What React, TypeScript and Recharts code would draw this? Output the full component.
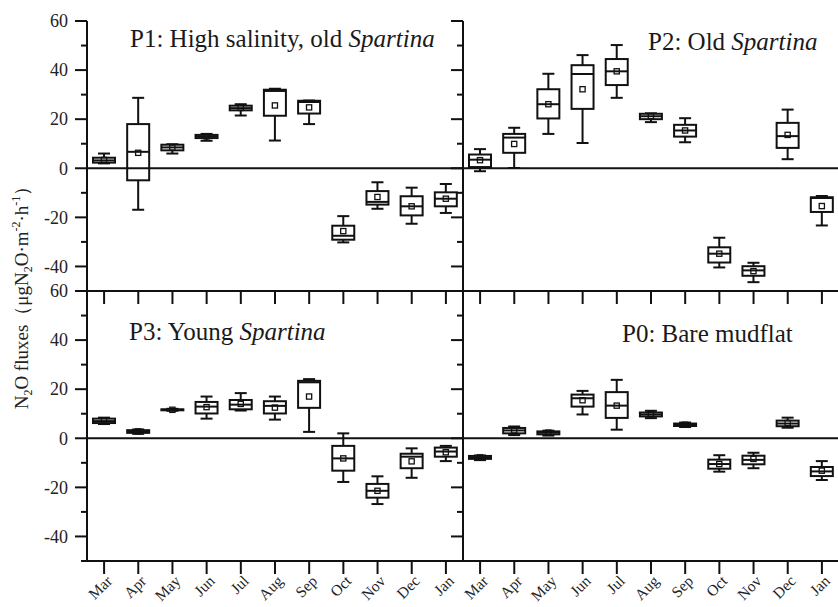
import React from 'react';
import { ComposedChart, Bar, XAxis, YAxis, ReferenceLine } from 'recharts';

const months = ['Mar', 'Apr', 'May', 'Jun', 'Jul', 'Aug', 'Sep', 'Oct', 'Nov', 'Dec', 'Jan'];
const yTicks = [-50, -40, -30, -20, -10, 0, 10, 20, 30, 40, 50, 60];

// P1: High salinity, old Spartina
const p1Min = [2.0, -16.9, 6.0, 11.2, 21.5, 11.3, 18.0, -30.2, -16.5, -22.6, -18.2];
const p1Q1 = [2.3, -4.9, 7.3, 12.3, 23.6, 21.4, 22.3, -29.1, -14.8, -19.2, -15.5];
const p1Med = [3.2, 6.7, 8.5, 13.0, 24.5, 31.5, 27.0, -27.5, -13.7, -15.5, -12.4];
const p1Q3 = [4.3, 18.0, 9.6, 13.6, 25.5, 32.0, 27.5, -23.4, -9.3, -11.4, -9.8];
const p1Max = [6.0, 28.7, 9.8, 14.0, 26.1, 32.4, 27.6, -19.5, -5.7, -7.9, -6.4];
const p1Mean = [3.4, 6.3, 8.4, 13.0, 24.6, 25.6, 24.8, -25.6, -11.7, -15.5, -12.4];

// P2: Old Spartina
const p2Min = [-1.2, 0.1, 14.0, 10.3, 28.7, 18.8, 10.6, -40.4, -46.4, 3.7, -23.3];
const p2Q1 = [0.5, 6.3, 20.3, 24.2, 33.9, 20.0, 12.9, -38.4, -43.8, 8.3, -17.8];
const p2Med = [3.5, 12.5, 26.1, 38.4, 39.5, 21.2, 15.4, -34.8, -41.6, 13.1, -12.1];
const p2Q3 = [5.6, 14.0, 32.2, 42.0, 44.5, 22.2, 17.7, -32.2, -39.9, 18.5, -11.8];
const p2Max = [7.8, 16.5, 38.5, 46.1, 50.2, 22.4, 20.4, -28.3, -38.5, 23.9, -11.3];
const p2Mean = [3.3, 9.9, 26.1, 32.2, 39.5, 21.2, 15.4, -34.8, -41.9, 13.6, -15.4];

// P3: Young Spartina
const p3Min = [5.8, 1.8, 11.2, 8.0, 11.3, 7.6, 2.6, -17.8, -26.8, -16.1, -9.3];
const p3Q1 = [6.2, 2.2, 11.4, 10.1, 11.8, 10.1, 12.4, -13.2, -24.2, -12.2, -7.5];
const p3Med = [7.0, 2.8, 11.6, 12.9, 13.7, 13.2, 22.8, -8.2, -21.4, -7.5, -5.4];
const p3Q3 = [8.0, 3.3, 11.8, 14.8, 15.6, 15.1, 23.4, -3.1, -18.6, -6.3, -3.8];
const p3Max = [8.4, 3.6, 12.0, 17.0, 18.4, 17.0, 24.1, 2.0, -15.5, -4.1, -3.1];
const p3Mean = [7.2, 2.8, 11.6, 12.7, 14.0, 12.5, 17.0, -8.2, -21.4, -9.4, -5.7];

// P0: Bare mudflat
const p0Min = [-8.9, 1.3, 1.1, 9.7, 3.5, 8.2, 4.6, -13.6, -12.2, 4.3, -17.0];
const p0Q1 = [-8.4, 2.0, 1.6, 12.9, 8.3, 8.9, 5.0, -12.4, -10.6, 4.9, -15.4];
const p0Med = [-7.8, 3.2, 2.3, 16.3, 13.3, 9.7, 5.5, -10.5, -8.8, 6.0, -13.5];
const p0Q3 = [-7.2, 4.2, 2.8, 17.8, 18.8, 10.5, 6.0, -8.7, -7.1, 7.2, -11.7];
const p0Max = [-7.0, 4.8, 3.1, 19.3, 23.8, 11.2, 6.4, -6.9, -5.9, 8.4, -9.3];
const p0Mean = [-7.8, 3.2, 2.3, 15.5, 13.3, 9.8, 5.5, -10.5, -8.4, 6.2, -13.2];

const build = (mn: number[], q1: number[], md: number[], q3: number[], mx: number[], mean: number[]) =>
  months.map((m, i) => ({ month: m, min: mn[i], q1: q1[i], med: md[i], q3: q3[i], max: mx[i], mean: mean[i] }));

const p1Data = build(p1Min, p1Q1, p1Med, p1Q3, p1Max, p1Mean);
const p2Data = build(p2Min, p2Q1, p2Med, p2Q3, p2Max, p2Mean);
const p3Data = build(p3Min, p3Q1, p3Med, p3Q3, p3Max, p3Mean);
const p0Data = build(p0Min, p0Q1, p0Med, p0Q3, p0Max, p0Mean);

const FONT = '"Liberation Serif", "Times New Roman", serif';
const INK = '#111';

const BoxShape = (props: any) => {
  const { x, y, width, height, payload } = props;
  if (x == null || payload == null) return null;
  const top = Math.min(y, y + height);
  const h = Math.abs(height);
  const { min, max } = payload;
  const py = (v: number) => top + ((max - v) / (max - min)) * h;
  const cx = x + width / 2;
  const cap = 6;
  const yq1 = py(payload.q1);
  const yq3 = py(payload.q3);
  const ymed = py(payload.med);
  const ymean = py(payload.mean);
  return (
    <g stroke={INK} strokeWidth={2} fill="none">
      <line x1={cx} x2={cx} y1={top} y2={yq3} />
      <line x1={cx} x2={cx} y1={yq1} y2={top + h} />
      <line x1={cx - cap} x2={cx + cap} y1={top} y2={top} />
      <line x1={cx - cap} x2={cx + cap} y1={top + h} y2={top + h} />
      <rect x={x} y={yq3} width={width} height={Math.max(yq1 - yq3, 0.5)} fill="#fff" />
      <line x1={x} x2={x + width} y1={ymed} y2={ymed} />
      <rect x={cx - 2.6} y={ymean - 2.6} width={5.2} height={5.2} strokeWidth={1.3} fill="none" />
    </g>
  );
};

const LeftTick = (props: any) => {
  const { x, y, payload } = props;
  const v = payload.value;
  const major = v % 20 === 0;
  return (
    <g>
      <line x1={x - (major ? 12 : 6)} x2={x} y1={y} y2={y} stroke={INK} strokeWidth={2} />
      {major && (
        <text x={x - 19} y={y} dy="0.35em" textAnchor="end" fontFamily={FONT} fontSize={18} fill="#222">
          {v}
        </text>
      )}
    </g>
  );
};

const RightTick = (props: any) => {
  const { x, y, payload } = props;
  const major = payload.value % 20 === 0;
  return <line x1={x - (major ? 12 : 6)} x2={x} y1={y} y2={y} stroke={INK} strokeWidth={2} />;
};

const BottomTick = (props: any) => {
  const { x, y, payload } = props;
  const ax = x + 9;
  const ay = y + 21;
  return (
    <g>
      <line x1={x} x2={x} y1={y} y2={y + 13} stroke={INK} strokeWidth={2} />
      <text x={ax} y={ay} transform={`rotate(-45 ${ax} ${ay})`} textAnchor="end" fontFamily={FONT} fontSize={15.5} fill="#222">
        {payload.value}
      </text>
    </g>
  );
};

const TopTick = (props: any) => {
  const { x, y } = props;
  return <line x1={x} x2={x} y1={y} y2={y + 13} stroke={INK} strokeWidth={2} />;
};

const axisLine = { stroke: INK, strokeWidth: 2 };

type PanelProps = { data: any[]; left: number; top: number; isLeft: boolean; isBottom: boolean };

const Panel = ({ data, left, top, isLeft, isBottom }: PanelProps) => {
  const padL = isLeft ? 0 : 24;
  const width = isLeft ? 464 : 376 + padL;
  const height = isBottom ? 337 : 291;
  const margin = { top: isBottom ? 20 : 21, right: 0, bottom: 0, left: padL };
  return (
    <div style={{ position: 'absolute', left: left - padL, top, width, height }}>
      <ComposedChart width={width} height={height} data={data} margin={margin} barCategoryGap={0}>
        {isBottom ? (
          <XAxis
            xAxisId="b"
            dataKey="month"
            orientation="bottom"
            height={46}
            interval={0}
            tickSize={0}
            tickMargin={0}
            tickLine={false}
            axisLine={axisLine}
            tick={<BottomTick />}
          />
        ) : (
          <XAxis xAxisId="b" dataKey="month" hide />
        )}
        {isBottom && (
          <XAxis
            xAxisId="t"
            dataKey="month"
            orientation="top"
            height={1}
            interval={0}
            tickSize={0}
            tickMargin={0}
            tickLine={false}
            axisLine={axisLine}
            tick={<TopTick />}
          />
        )}
        {isLeft ? (
          <YAxis
            yAxisId="l"
            type="number"
            domain={[-50, 60]}
            ticks={yTicks}
            interval={0}
            width={87}
            tickSize={0}
            tickMargin={0}
            tickLine={false}
            axisLine={axisLine}
            tick={<LeftTick />}
            allowDataOverflow
          />
        ) : (
          <YAxis yAxisId="l" type="number" domain={[-50, 60]} hide allowDataOverflow />
        )}
        {isLeft && (
          <YAxis
            yAxisId="r"
            orientation="right"
            type="number"
            domain={[-50, 60]}
            ticks={yTicks}
            interval={0}
            width={1}
            tickSize={0}
            tickMargin={0}
            tickLine={false}
            axisLine={axisLine}
            tick={<RightTick />}
            allowDataOverflow
          />
        )}
        <ReferenceLine xAxisId="b" yAxisId="l" y={0} stroke={INK} strokeWidth={2} />
        <Bar
          xAxisId="b"
          yAxisId="l"
          dataKey={(d: any) => [d.min, d.max]}
          barSize={22}
          shape={<BoxShape />}
          isAnimationActive={false}
        />
      </ComposedChart>
    </div>
  );
};

const titleStyle = { fontFamily: FONT, fontSize: 25, fill: '#1a1a1a' } as const;

export default function App() {
  return (
    <div style={{ position: 'absolute', left: 0, top: 0, width: 838, height: 607, overflow: 'hidden', background: '#fff' }}>
      <Panel data={p1Data} left={0} top={0} isLeft isBottom={false} />
      <Panel data={p2Data} left={463} top={0} isLeft={false} isBottom={false} />
      <Panel data={p3Data} left={0} top={270} isLeft isBottom />
      <Panel data={p0Data} left={463} top={270} isLeft={false} isBottom />
      <svg width={838} height={607} style={{ position: 'absolute', left: 0, top: 0, pointerEvents: 'none' }}>
        <text x={130} y={47} {...titleStyle}>
          P1: High salinity, old <tspan fontStyle="italic">Spartina</tspan>
        </text>
        <text x={648} y={50} {...titleStyle}>
          P2: Old <tspan fontStyle="italic">Spartina</tspan>
        </text>
        <text x={129} y={340} {...titleStyle}>
          P3: Young <tspan fontStyle="italic">Spartina</tspan>
        </text>
        <text x={622} y={342} {...titleStyle}>
          P0: Bare mudflat
        </text>
        <text
          x={28}
          y={293}
          transform="rotate(-90 28 293)"
          textAnchor="middle"
          fontFamily={FONT}
          fontSize={19}
          fill="#222"
        >
          N<tspan fontSize={12} dy={4}>2</tspan>
          <tspan dy={-4}>O fluxes（μgN</tspan>
          <tspan fontSize={12} dy={4}>2</tspan>
          <tspan dy={-4}>O·m</tspan>
          <tspan fontSize={12} dy={-8}>-2</tspan>
          <tspan dy={8}>·h</tspan>
          <tspan fontSize={12} dy={-8}>-1</tspan>
          <tspan dy={8}>）</tspan>
        </text>
      </svg>
    </div>
  );
}
